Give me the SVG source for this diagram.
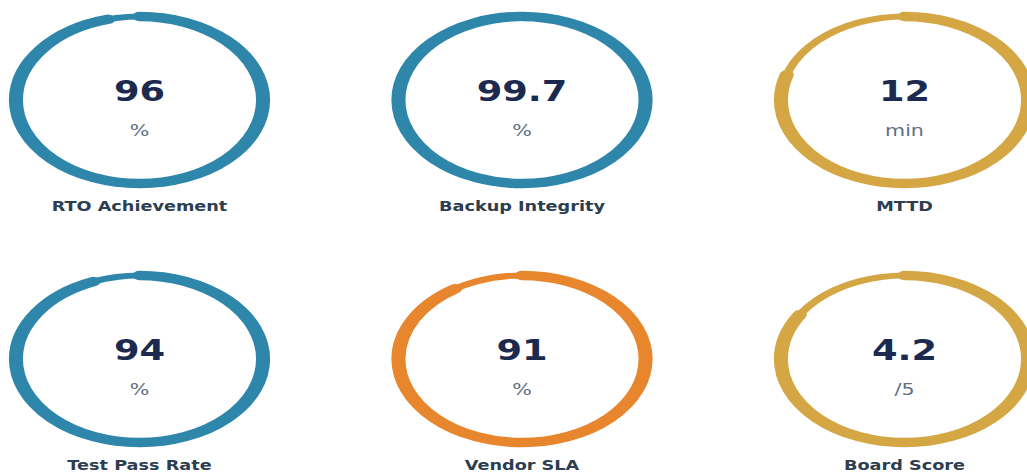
<svg xmlns="http://www.w3.org/2000/svg" width="1027" height="473" viewBox="0 0 1027 473">
<style>
.track{fill:none;stroke-width:6}
.arc{fill:none;stroke-width:9.5;stroke-linecap:round}
.blue{stroke:#2E86AB}
.gold{stroke:#D4A744}
.orange{stroke:#E8862E}
text{font-family:"DejaVu Sans","Verdana",sans-serif;text-anchor:middle}
.val{font-size:28.5px;font-weight:bold;fill:#1B2A4E}
.unit{font-size:16px;fill:#5F6F86}
.lbl{font-size:13.7px;font-weight:bold;fill:#2C3E50}
</style>
<rect width="1027" height="473" fill="#FFFFFF"/>
<g id="gauge-rto" transform="translate(139.5,100)">
<g transform="scale(1.48,1)"><circle class="track blue" r="83.5"/><circle class="arc blue" r="83.5" pathLength="100" stroke-dasharray="96 100" transform="rotate(-90)"/></g>
<g transform="scale(1.29,1)"><text class="val" y="1">96</text><text class="unit" y="36">%</text><text class="lbl" y="111">RTO Achievement</text></g>
</g>
<g id="gauge-backup" transform="translate(522,100)">
<g transform="scale(1.48,1)"><circle class="track blue" r="83.5"/><circle class="arc blue" r="83.5" pathLength="100" stroke-dasharray="99.7 100" transform="rotate(-90)"/></g>
<g transform="scale(1.29,1)"><text class="val" y="1">99.7</text><text class="unit" y="36">%</text><text class="lbl" y="111">Backup Integrity</text></g>
</g>
<g id="gauge-mttd" transform="translate(904.5,100)">
<g transform="scale(1.48,1)"><circle class="track gold" r="83.5"/><circle class="arc gold" r="83.5" pathLength="100" stroke-dasharray="80 100" transform="rotate(-90)"/></g>
<g transform="scale(1.29,1)"><text class="val" y="1">12</text><text class="unit" y="36">min</text><text class="lbl" y="111">MTTD</text></g>
</g>
<g id="gauge-test" transform="translate(139.5,359)">
<g transform="scale(1.48,1)"><circle class="track blue" r="83.5"/><circle class="arc blue" r="83.5" pathLength="100" stroke-dasharray="94 100" transform="rotate(-90)"/></g>
<g transform="scale(1.29,1)"><text class="val" y="1">94</text><text class="unit" y="36">%</text><text class="lbl" y="111">Test Pass Rate</text></g>
</g>
<g id="gauge-vendor" transform="translate(522,359)">
<g transform="scale(1.48,1)"><circle class="track orange" r="83.5"/><circle class="arc orange" r="83.5" pathLength="100" stroke-dasharray="91 100" transform="rotate(-90)"/></g>
<g transform="scale(1.29,1)"><text class="val" y="1">91</text><text class="unit" y="36">%</text><text class="lbl" y="111">Vendor SLA</text></g>
</g>
<g id="gauge-board" transform="translate(904.5,359)">
<g transform="scale(1.48,1)"><circle class="track gold" r="83.5"/><circle class="arc gold" r="83.5" pathLength="100" stroke-dasharray="84 100" transform="rotate(-90)"/></g>
<g transform="scale(1.29,1)"><text class="val" y="1">4.2</text><text class="unit" y="36">/5</text><text class="lbl" y="111">Board Score</text></g>
</g>
<g id="connectors"></g>
</svg>
